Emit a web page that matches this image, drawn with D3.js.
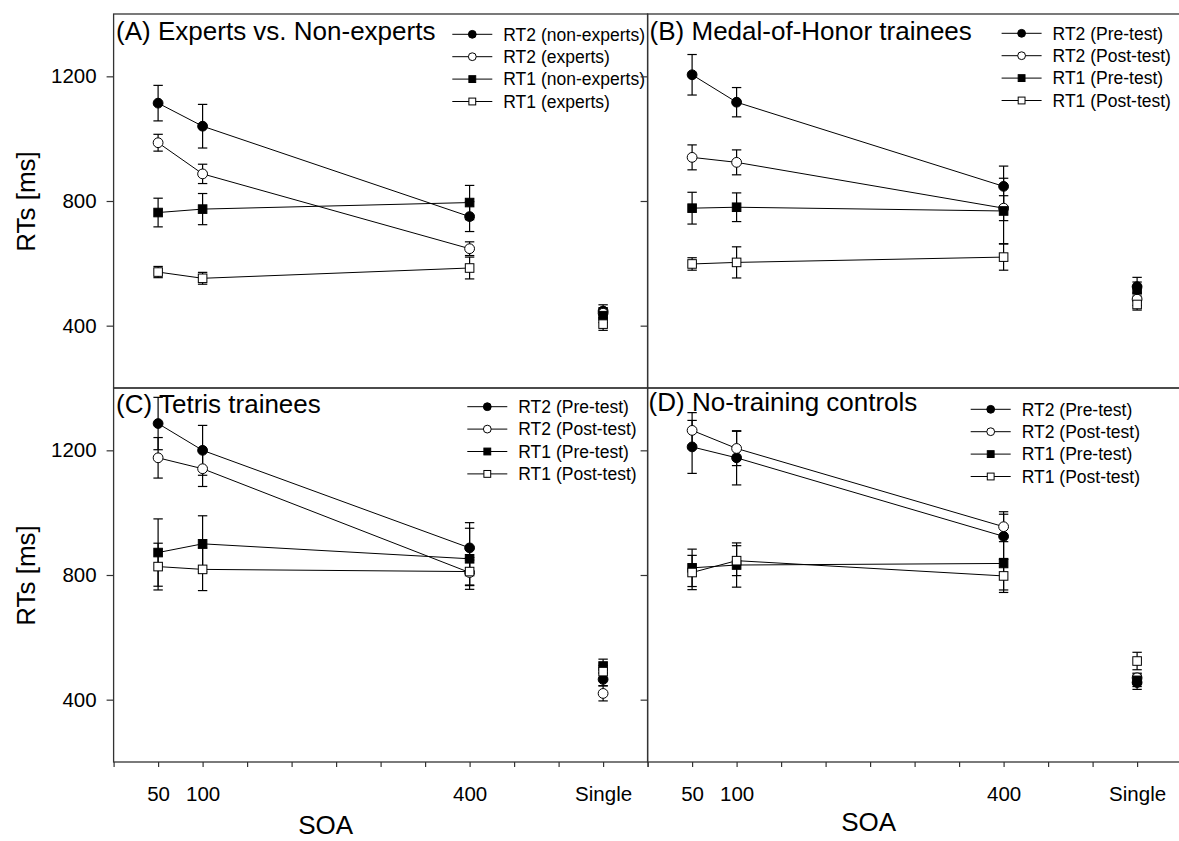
<!DOCTYPE html>
<html>
<head>
<meta charset="utf-8">
<script src="https://cdn.jsdelivr.net/npm/d3@7"></script>
<style>
  html, body { margin: 0; padding: 0; background: #fff; }
  svg { display: block; font-family: Arial, "Liberation Sans", sans-serif; }
  .frame { fill: none; stroke: #333; stroke-width: 1.3; }
  .axis line { stroke: #333; stroke-width: 1.2; }
  .axis text { font-family: Arial, "Liberation Sans", sans-serif; font-size: 20.5px; fill: #000; }
  .title { font-size: 26px; fill: #000; }
  .leg text { font-size: 17.5px; fill: #000; }
  .axis-title { font-size: 26px; fill: #000; }
</style>
</head>
<body>
<svg id="fig" width="1179" height="841"></svg>
<script>
// SOA conditions: 50, 100, 400 ms plus the single-task baseline
var soaPos = [50, 100, 400, 550];
var soaLabels = ['50', '100', '400', 'Single'];
var xTicks = d3.range(0, 601, 50);
var yTicks = [400, 800, 1200];

var panelTitles = ['(A) Experts vs. Non-experts', '(B) Medal-of-Honor trainees',
                   '(C) Tetris trainees', '(D) No-training controls'];
var legendExperts = ['RT2 (non-experts)', 'RT2 (experts)', 'RT1 (non-experts)', 'RT1 (experts)'];
var legendTraining = ['RT2 (Pre-test)', 'RT2 (Post-test)', 'RT1 (Pre-test)', 'RT1 (Post-test)'];

// (A) experts vs non-experts  (means, then standard errors)
var A_rt2Non = [1114, 1040, 750, 447],  A_rt2NonErr = [57, 70, 48, 20];
var A_rt2Exp = [987, 887, 647, 440],    A_rt2ExpErr = [27, 31, 22, 18];
var A_rt1Non = [763, 774, 795, 432],    A_rt1NonErr = [46, 50, 55, 22];
var A_rt1Exp = [572, 552, 585, 405],    A_rt1ExpErr = [18, 19, 35, 20];

// (B) Medal-of-Honor
var B_rt2Pre = [1205, 1117, 847, 525],  B_rt2PreErr = [65, 47, 65, 30];
var B_rt2Post = [940, 924, 777, 485],   B_rt2PostErr = [40, 40, 40, 20];
var B_rt1Pre = [777, 780, 768, 515],    B_rt1PreErr = [51, 46, 105, 25];
var B_rt1Post = [598, 603, 620, 468],   B_rt1PostErr = [20, 50, 42, 18];

// (C) Tetris
var C_rt2Pre = [1286, 1200, 887, 465],  C_rt2PreErr = [84, 80, 81, 20];
var C_rt2Post = [1176, 1141, 808, 420], C_rt2PostErr = [65, 57, 40, 24];
var C_rt1Pre = [872, 900, 852, 508],    C_rt1PreErr = [108, 90, 98, 22];
var C_rt1Post = [827, 818, 811, 490],   C_rt1PostErr = [75, 68, 45, 20];

// (D) no-training controls
var D_rt2Pre = [1211, 1176, 924, 455],  D_rt2PreErr = [85, 87, 71, 22];
var D_rt2Post = [1264, 1206, 955, 470], D_rt2PostErr = [57, 55, 48, 15];
var D_rt1Pre = [823, 832, 837, 462],    D_rt1PreErr = [60, 71, 85, 20];
var D_rt1Post = [808, 846, 797, 524],   D_rt1PostErr = [55, 48, 53, 28];

(function () {
    var svg = d3.select('#fig');
    var PW = 534, PH = 374;

    var styles = [
        { shape: 'circle', fill: '#000' },
        { shape: 'circle', fill: '#fff' },
        { shape: 'square', fill: '#000' },
        { shape: 'square', fill: '#fff' }
    ];

    var panels = [
        { left: 113.6, top: 14, labels: true, xaxis: false, legend: legendExperts, lx: 338.7, ly: 20.3, title: panelTitles[0], tx: 2.5, ty: 26,
          series: [[A_rt2Non, A_rt2NonErr], [A_rt2Exp, A_rt2ExpErr], [A_rt1Non, A_rt1NonErr], [A_rt1Exp, A_rt1ExpErr]] },
        { left: 647.6, top: 14, labels: false, xaxis: false, legend: legendTraining, lx: 354, ly: 19.3, title: panelTitles[1], tx: 2, ty: 25.5,
          series: [[B_rt2Pre, B_rt2PreErr], [B_rt2Post, B_rt2PostErr], [B_rt1Pre, B_rt1PreErr], [B_rt1Post, B_rt1PostErr]] },
        { left: 113.6, top: 388, labels: true, xaxis: true, legend: legendTraining, lx: 353.7, ly: 18.7, title: panelTitles[2], tx: 2.5, ty: 25, soaX: 212, soaY: 446,
          series: [[C_rt2Pre, C_rt2PreErr], [C_rt2Post, C_rt2PostErr], [C_rt1Pre, C_rt1PreErr], [C_rt1Post, C_rt1PostErr]] },
        { left: 647.6, top: 388, labels: false, xaxis: true, legend: legendTraining, lx: 323.1, ly: 21.3, title: panelTitles[3], tx: 1, ty: 23, soaX: 221, soaY: 443,
          series: [[D_rt2Pre, D_rt2PreErr], [D_rt2Post, D_rt2PostErr], [D_rt1Pre, D_rt1PreErr], [D_rt1Post, D_rt1PostErr]] }
    ];

    function marker(g, st, cx, cy, r) {
        if (st.shape === 'circle') {
            g.append('circle').attr('cx', cx).attr('cy', cy).attr('r', r)
                .attr('fill', st.fill).attr('stroke', '#000').attr('stroke-width', 1);
        } else {
            var s = r * 1.75;
            g.append('rect').attr('x', cx - s / 2).attr('y', cy - s / 2)
                .attr('width', s).attr('height', s)
                .attr('fill', st.fill).attr('stroke', '#000').attr('stroke-width', 1);
        }
    }

    panels.forEach(function (p) {
        var x = d3.scaleLinear().domain([0, 600]).range([0, PW]);
        var y = d3.scaleLinear().domain([200, 1400]).range([PH, 0]);
        var g = svg.append('g').attr('transform', 'translate(' + p.left + ',' + p.top + ')');

        // y axis
        var yAxis = d3.axisLeft(y).tickValues(yTicks).tickSize(7).tickPadding(10)
            .tickFormat(p.labels ? d3.format('d') : function () { return ''; });
        g.append('g').attr('class', 'axis').call(yAxis).select('.domain').remove();

        // x axis only under the bottom row
        if (p.xaxis) {
            var xAxis = d3.axisBottom(x).tickValues(xTicks).tickSize(5).tickPadding(19)
                .tickFormat(function (d) {
                    var i = soaPos.indexOf(d);
                    return i < 0 ? '' : soaLabels[i];
                });
            g.append('g').attr('class', 'axis').attr('transform', 'translate(0,' + PH + ')')
                .call(xAxis).select('.domain').remove();
            g.append('text').attr('class', 'axis-title')
                .attr('x', p.soaX).attr('y', p.soaY)
                .attr('text-anchor', 'middle').text('SOA');
        }

        if (p.labels) {
            g.append('text').attr('class', 'axis-title')
                .attr('transform', 'translate(' + (35 - p.left) + ',' + (PH / 2 + 0.5) + ') rotate(-90)')
                .attr('text-anchor', 'middle').text('RTs [ms]');
        }

        g.append('rect').attr('class', 'frame').attr('width', PW).attr('height', PH);

        // data
        var line = d3.line().x(function (d) { return x(d[0]); }).y(function (d) { return y(d[1]); });
        var gLines = g.append('g'), gErr = g.append('g'), gPts = g.append('g');
        p.series.forEach(function (s, k) {
            var vals = s[0], errs = s[1];
            var pts = soaPos.slice(0, 3).map(function (v, i) { return [v, vals[i]]; });
            gLines.append('path').datum(pts).attr('d', line)
                .attr('fill', 'none').attr('stroke', '#000').attr('stroke-width', 1);
            soaPos.forEach(function (v, i) {
                var cx = x(v), hi = y(vals[i] + errs[i]), lo = y(vals[i] - errs[i]);
                gErr.append('line').attr('x1', cx).attr('x2', cx).attr('y1', hi).attr('y2', lo)
                    .attr('stroke', '#000').attr('stroke-width', 1.2);
                [hi, lo].forEach(function (yy) {
                    gErr.append('line').attr('x1', cx - 4.7).attr('x2', cx + 4.7)
                        .attr('y1', yy).attr('y2', yy).attr('stroke', '#000').attr('stroke-width', 1.2);
                });
            });
            soaPos.forEach(function (v, i) {
                marker(gPts, styles[k], x(v), y(vals[i]), 4.9);
            });
        });

        // title + legend
        g.append('text').attr('class', 'title').attr('x', p.tx).attr('y', p.ty).text(p.title);
        var leg = g.append('g').attr('class', 'leg');
        p.legend.forEach(function (lab, k) {
            var ly = p.ly + k * 22.4;
            leg.append('line').attr('x1', p.lx).attr('x2', p.lx + 40).attr('y1', ly).attr('y2', ly)
                .attr('stroke', '#000').attr('stroke-width', 1);
            marker(leg, styles[k], p.lx + 20, ly, 3.9);
            leg.append('text').attr('x', p.lx + 51).attr('y', ly).attr('dy', '0.36em').text(lab);
        });
    });
})();
</script>
</body>
</html>
